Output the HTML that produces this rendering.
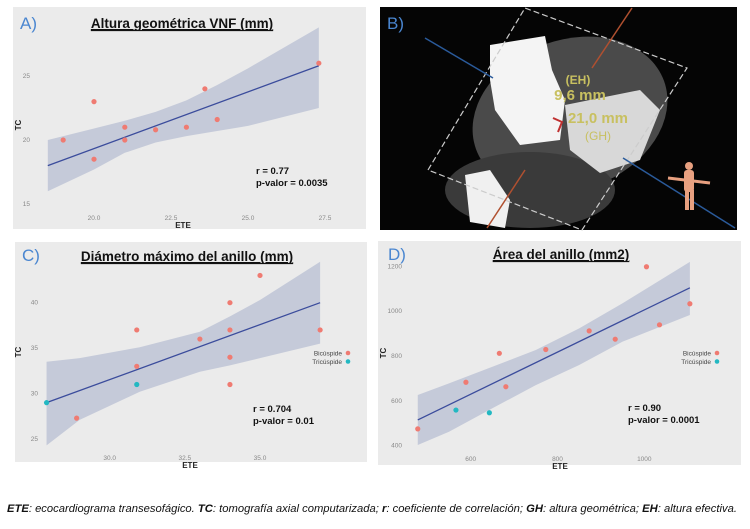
<!DOCTYPE html>
<html><head><meta charset="utf-8"><style>
html,body{margin:0;padding:0;background:#fff;}
svg{display:block;font-family:"Liberation Sans",sans-serif;}
</style></head><body>
<svg id="fig" width="750" height="529" viewBox="0 0 750 529" xmlns="http://www.w3.org/2000/svg">
  <rect x="13" y="7" width="353" height="222" fill="#ebebeb"/>
  <rect x="15" y="242" width="352" height="220" fill="#ebebeb"/>
  <rect x="378" y="241" width="363" height="224" fill="#ebebeb"/>

  <g>
    <rect x="380" y="7" width="357" height="223" fill="#050505"/>
    <ellipse cx="570" cy="115" rx="100" ry="75" transform="rotate(-20 570 115)" fill="#4a4a4a"/>
    <ellipse cx="530" cy="190" rx="85" ry="38" fill="#3a3a3a"/>
    <polygon points="490,45 545,36 552,70 565,100 560,140 520,145 495,110 490,80" fill="#f4f4f4"/>
    <polygon points="565,105 640,90 660,110 640,160 600,173 570,150" fill="#d8d8d8"/>
    <polygon points="465,175 490,170 510,200 505,228 470,222" fill="#f0f0f0"/>
    <polygon points="428,170 525,8 687,68 582,230" fill="none" stroke="#ccc" stroke-width="1.2" stroke-dasharray="6,3"/>
    <line x1="425" y1="38" x2="493" y2="78" stroke="#2a5a9a" stroke-width="1.5"/>
    <line x1="623" y1="158" x2="735" y2="228" stroke="#2a5a9a" stroke-width="1.5"/>
    <line x1="632" y1="8" x2="592" y2="68" stroke="#b05030" stroke-width="1.5"/>
    <line x1="525" y1="170" x2="487" y2="228" stroke="#b05030" stroke-width="1.5"/>
    <path d="M553,118 L562,122 L558,132" stroke="#c03030" stroke-width="2" fill="none"/>
    <g fill="#e8a080">
      <circle cx="689" cy="166" r="4"/>
      <rect x="684" y="170" width="10" height="22" rx="3"/>
      <line x1="668" y1="178" x2="710" y2="183" stroke="#e8a080" stroke-width="3"/>
      <rect x="685" y="190" width="4" height="20"/>
      <rect x="690" y="190" width="4" height="20"/>
    </g>
    <text x="578" y="84" font-size="12" font-weight="bold" fill="#c8c060" text-anchor="middle">(EH)</text>
    <text x="580" y="100" font-size="15" font-weight="bold" fill="#c8c060" text-anchor="middle">9,6 mm</text>
    <text x="598" y="123" font-size="15" font-weight="bold" fill="#c8c060" text-anchor="middle">21,0 mm</text>
    <text x="598" y="140" font-size="12" fill="#c8c060" text-anchor="middle">(GH)</text>
    <text x="387" y="29" font-size="17" fill="#4a86d0">B)</text>
  </g>

  <text x="20" y="29" font-size="17" fill="#4a86d0">A)</text>
  <text x="22" y="261" font-size="17" fill="#4a86d0">C)</text>
  <text x="388" y="260" font-size="17" fill="#4a86d0">D)</text>

  <text x="7" y="512" font-size="11" font-style="italic" fill="#111" textLength="730" lengthAdjust="spacingAndGlyphs"><tspan font-weight="bold">ETE</tspan>: ecocardiograma transesofágico. <tspan font-weight="bold">TC</tspan>: tomografía axial computarizada; <tspan font-weight="bold">r</tspan>: coeficiente de correlación; <tspan font-weight="bold">GH</tspan>: altura geométrica; <tspan font-weight="bold">EH</tspan>: altura efectiva.</text>
</svg>
<script>
// ---- Panel A data ----
const aX = [19.0, 20.0, 20.0, 21.0, 21.0, 22.0, 23.0, 23.6, 24.0, 27.3];
const aY = [20.0, 23.0, 18.5, 21.0, 20.0, 20.8, 21.0, 24.0, 21.6, 26.0];
const aBandX = [18.5, 20, 21, 22, 23, 24, 25, 27.3];
const aBandUpper = [20.0, 20.9, 21.5, 22.2, 23.1, 24.3, 25.6, 28.8];
const aBandLower = [16.0, 17.7, 19.0, 19.8, 20.3, 20.7, 21.1, 22.5];
const aFitX = [18.5, 27.3];
const aFitY = [18.0, 25.8];
const aXTicks = [20.0, 22.5, 25.0, 27.5];
const aXTickLabels = ["20.0", "22.5", "25.0", "27.5"];
const aYTicks = [15, 20, 25];
const aYTickLabels = ["15", "20", "25"];

// ---- Panel C data ----
const cBiX = [28.9, 30.9, 30.9, 33.0, 34.0, 34.0, 34.0, 34.0, 35.0, 37.0];
const cBiY = [27.3, 37.0, 33.0, 36.0, 40.0, 37.0, 34.0, 31.0, 43.0, 37.0];
const cTriX = [27.9, 30.9];
const cTriY = [29.0, 31.0];
const cBandX = [27.9, 29, 31, 33, 34, 35, 37];
const cBandUpper = [33.5, 33.9, 35.1, 36.8, 38.5, 40.3, 44.5];
const cBandLower = [24.3, 27.1, 30.2, 32.4, 33.1, 33.9, 35.5];
const cFitX = [27.9, 37.0];
const cFitY = [29.0, 40.0];
const cXTicks = [30.0, 32.5, 35.0];
const cXTickLabels = ["30.0", "32.5", "35.0"];
const cYTicks = [25, 30, 35, 40];
const cYTickLabels = ["25", "30", "35", "40"];

// ---- Panel D data ----
const dBiX = [478, 589, 666, 681, 773, 873, 933, 1005, 1035, 1105];
const dBiY = [475, 683, 812, 663, 829, 912, 875, 1198, 939, 1033];
const dTriX = [566, 643];
const dTriY = [559, 547];
const dBandX = [478, 550, 650, 750, 850, 950, 1105];
const dBandUpper = [626, 678, 752, 827, 923, 1035, 1220];
const dBandLower = [403, 462, 567, 670, 760, 864, 983];
const dFitX = [478, 1105];
const dFitY = [515, 1104];
const dXTicks = [600, 800, 1000];
const dXTickLabels = ["600", "800", "1000"];
const dYTicks = [400, 600, 800, 1000, 1200];
const dYTickLabels = ["400", "600", "800", "1000", "1200"];

const NS = "http://www.w3.org/2000/svg";
const svg = document.getElementById('fig');
function mk(tag, attrs, parent) {
  const e = document.createElementNS(NS, tag);
  for (const k in attrs) e.setAttribute(k, attrs[k]);
  (parent || svg).appendChild(e);
  return e;
}
function lin(d0, d1, p0, p1) { return v => p0 + (v - d0) * (p1 - p0) / (d1 - d0); }

function panel(p) {
  const g = mk('g', {});
  
  
  const sx = p.sx, sy = p.sy;
  let d = '';
  p.bandX.forEach((x, i) => { d += (i ? 'L' : 'M') + sx(x) + ',' + sy(p.bandU[i]); });
  for (let i = p.bandX.length - 1; i >= 0; i--) d += 'L' + sx(p.bandX[i]) + ',' + sy(p.bandL[i]);
  const band = mk('path', { d: d + 'Z', fill: '#c5cad9' }, g);
  
  
  const fit = mk('line', { x1: sx(p.fitX[0]), y1: sy(p.fitY[0]), x2: sx(p.fitX[1]), y2: sy(p.fitY[1]), stroke: '#3b4c9c', 'stroke-width': 1.3 }, g);
  
  
  p.series.forEach(s => {
    s.x.forEach((x, i) => {
      const c = mk('circle', { cx: sx(x), cy: sy(s.y[i]), r: 2.6, fill: s.color }, g);
      
      
    });
  });
  p.xt.forEach((t, i) => {
    const e = mk('text', { x: sx(t), y: p.xtY, 'font-size': 6.5, fill: '#888', 'text-anchor': 'middle' }, g);
    e.textContent = p.xtl[i];
    
    
  });
  p.yt.forEach((t, i) => {
    const e = mk('text', { x: p.ytX, y: sy(t) + 2, 'font-size': 6.5, fill: '#888', 'text-anchor': 'end' }, g);
    e.textContent = p.ytl[i];
    
    
  });
  const xl = mk('text', { x: p.xlab[0], y: p.xlab[1], 'font-size': 8, 'font-weight': 'bold', fill: '#222', 'text-anchor': 'middle' }, g);
  xl.textContent = 'ETE';
  
  
  const yl = mk('text', { x: p.ylab[0], y: p.ylab[1], 'font-size': 8, 'font-weight': 'bold', fill: '#222', 'text-anchor': 'middle', transform: 'rotate(-90 ' + p.ylab[0] + ' ' + p.ylab[1] + ')' }, g);
  yl.textContent = 'TC';
  
  
  const ti = mk('text', { x: p.title[0], y: p.title[1], 'font-size': 13.5, 'font-weight': 'bold', fill: '#111', 'text-anchor': 'middle', 'text-decoration': 'underline' }, g);
  ti.textContent = p.titleText;
  
  
  const ul = ti.getBBox ? ti.getBBox() : null;
  if (ul) { const u = mk('line', { x1: ul.x, x2: ul.x + ul.width, y1: p.title[1] + 2.5, y2: p.title[1] + 2.5, stroke: '#111', 'stroke-width': 1.2 }, g);
    
     }
  p.stats.forEach((s, i) => {
    const e = mk('text', { x: p.statPos[0], y: p.statPos[1] + i * 12, 'font-size': 9.5, 'font-weight': 'bold', fill: '#111' }, g);
    e.textContent = s;
    
    
  });
  if (p.legend) {
    p.legend.forEach((L, i) => {
      const y = p.legPos[1] + i * 8.5;
      const t = mk('text', { x: p.legPos[0], y: y + 2.5, 'font-size': 6.5, fill: '#444', 'text-anchor': 'end' }, g);
      t.textContent = L.label;
      
      
      const c = mk('circle', { cx: p.legPos[0] + 6, cy: y, r: 2.3, fill: L.color }, g);
      
      
    });
  }
}
const RED = '#ef7b72', TEAL = '#23b8c2';
panel({ name: 'panel-a', sx: lin(20, 27.5, 94, 325), sy: lin(15, 25, 204, 76),
  bandX: aBandX, bandU: aBandUpper, bandL: aBandLower, fitX: aFitX, fitY: aFitY,
  series: [{ name: 'measurement', x: aX, y: aY, color: RED }],
  xt: aXTicks, xtl: aXTickLabels, xtY: 220, yt: aYTicks, ytl: aYTickLabels, ytX: 30,
  xlab: [183, 228], ylab: [21, 125], title: [182, 28], titleText: 'Altura geométrica VNF (mm)',
  stats: ['r = 0.77', 'p-valor = 0.0035'], statPos: [256, 174] });
panel({ name: 'panel-c', sx: lin(30, 35, 109.7, 260), sy: lin(25, 40, 439, 302.7),
  bandX: cBandX, bandU: cBandUpper, bandL: cBandLower, fitX: cFitX, fitY: cFitY,
  series: [{ name: 'bicuspid', x: cBiX, y: cBiY, color: RED }, { name: 'tricuspid', x: cTriX, y: cTriY, color: TEAL }],
  xt: cXTicks, xtl: cXTickLabels, xtY: 460, yt: cYTicks, ytl: cYTickLabels, ytX: 38,
  xlab: [190, 468], ylab: [21, 352], title: [187, 261], titleText: 'Diámetro máximo del anillo (mm)',
  stats: ['r = 0.704', 'p-valor = 0.01'], statPos: [253, 412],
  legend: [{ label: 'Bicúspide', color: RED }, { label: 'Tricúspide', color: TEAL }], legPos: [342, 353] });
panel({ name: 'panel-d', sx: lin(600, 1000, 470.7, 644.3), sy: lin(400, 1200, 445.7, 266.3),
  bandX: dBandX, bandU: dBandUpper, bandL: dBandLower, fitX: dFitX, fitY: dFitY,
  series: [{ name: 'bicuspid', x: dBiX, y: dBiY, color: RED }, { name: 'tricuspid', x: dTriX, y: dTriY, color: TEAL }],
  xt: dXTicks, xtl: dXTickLabels, xtY: 461, yt: dYTicks, ytl: dYTickLabels, ytX: 402,
  xlab: [560, 469], ylab: [386, 353], title: [561, 259], titleText: 'Área del anillo (mm2)',
  stats: ['r = 0.90', 'p-valor = 0.0001'], statPos: [628, 411],
  legend: [{ label: 'Bicúspide', color: RED }, { label: 'Tricúspide', color: TEAL }], legPos: [711, 353] });
</script>
</body></html>
